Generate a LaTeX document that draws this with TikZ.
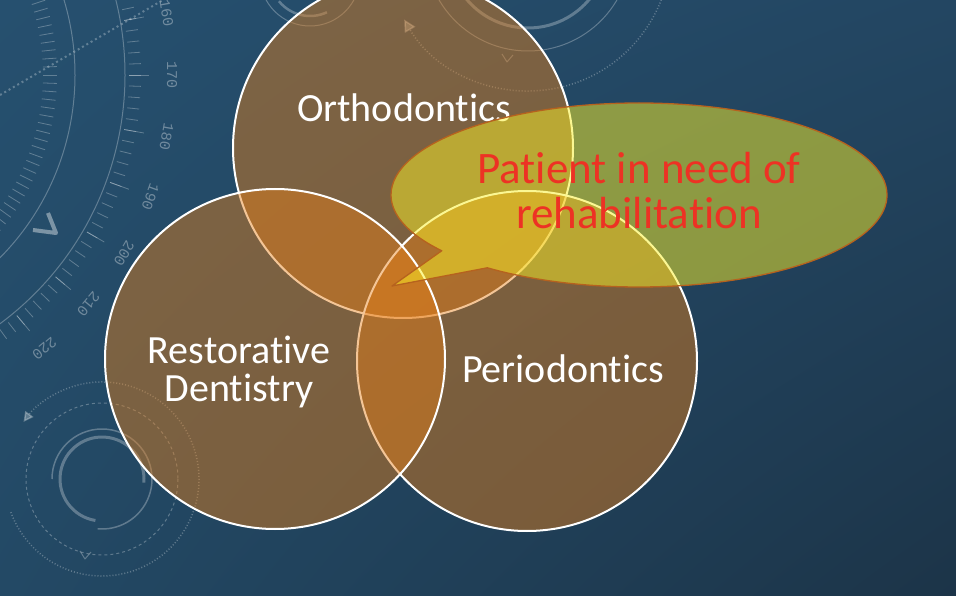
\documentclass[tikz,border=0pt]{standalone}
\usepackage{fontspec}
\setmainfont{Carlito}[Ligatures={NoCommon,NoContextual},Contextuals=NoAlternate]
\newfontfamily\dialfont{Liberation Mono}
\usetikzlibrary{shapes.callouts,shadings,arrows.meta}
\definecolor{bgtl}{RGB}{38,80,111}
\definecolor{bgtr}{RGB}{35,70,98}
\definecolor{bgbl}{RGB}{35,73,101}
\definecolor{bgbr}{RGB}{28,52,72}
\definecolor{vennfill}{RGB}{232,128,24}
\definecolor{bubblefill}{RGB}{249,240,40}
\definecolor{bubbleedge}{RGB}{182,98,30}
\definecolor{needred}{RGB}{237,50,36}

\begin{document}
\begin{tikzpicture}[
    x=1pt, y=-1pt, line join=round,
    venn/.style={circle,minimum size=340pt,inner sep=0pt,
        fill=vennfill,fill opacity=.45,draw=white,line width=2pt},
    venntext/.style={text=white,align=center,
        font=\fontsize{40}{38}\selectfont},
    bubble/.style={ellipse callout,minimum width=496pt,minimum height=184pt,
        inner sep=0pt,callout pointer arc=15,
        fill=bubblefill,fill opacity=.5,text opacity=1,
        draw=bubbleedge,line width=1.3pt,
        text=needred,align=center,font=\fontsize{45}{45}\selectfont},
    deco/.style={draw=white,opacity=.28,line width=1pt},
    dialnum/.style={text=white,text opacity=.35,inner sep=0pt,
        font=\dialfont\fontsize{15}{15}\selectfont}
]
    \useasboundingbox (0,0) rectangle (956,596);
    \shade[upper left=bgtl,upper right=bgtr,lower left=bgbl,lower right=bgbr]
        (0,0) rectangle (956,596);

    % faint dial and rings behind the diagram
    \begin{scope}
    \clip (0,0) rectangle (956,596);
    \coordinate (dial) at (-185,75);
    \draw[deco] (dial) ++(-40:260) arc[start angle=-40,end angle=80,radius=260];
    \draw[deco] (dial) ++(-40:310) arc[start angle=-40,end angle=80,radius=310];
    \foreach \a in {-30,-28,...,80} {
        \draw[deco,line width=.8pt] (dial) ++(\a:228) -- ++(\a:14);
        \draw[deco,line width=.8pt] (dial) ++(\a:314) -- ++(\a:12);
    }
    \foreach \a in {-30,-20,...,80}
        \draw[deco,line width=.8pt] (dial) ++(\a:314) -- ++(\a:20);
    \foreach \n in {160,170,...,220}
        \path (dial) ++({\n-170}:357) node[dialnum,rotate=80-\n] (deg\n) {\n};
    \draw[deco,line width=2pt,dash pattern=on 2pt off 3pt] (0,95) -- (163,0);
    \draw[deco,opacity=.4,line width=4pt] (48,213) -- (56,233) -- (33,230);

    \coordinate (ringA) at (102,479);
    \draw[deco,line width=3pt] (ringA) ++(99:42) arc[start angle=99,end angle=365,radius=42];
    \draw[deco,line width=1.5pt] (ringA) ++(180:50) arc[start angle=180,end angle=455,radius=50];
    \draw[deco,dashed] (ringA) circle[radius=76];
    \draw[deco,dotted,line width=1.5pt,-{Triangle[length=10pt,width=10pt]}]
        (ringA) ++(160:97) arc[start angle=160,end angle=-144,radius=97];
    \draw[deco] (80,551) -- (85,559) -- (91,552);

    \coordinate (ringB) at (528,-52);
    \draw[deco] (ringB) circle[radius=103];
    \draw[deco,line width=3pt] (ringB) circle[radius=80];
    \draw[deco,dotted,line width=1.5pt,-{Triangle[length=12pt,width=12pt]}]
        (ringB) ++(-10:143) arc[start angle=-10,end angle=150,radius=143];
    \draw[deco] (502,54) -- (507,62) -- (513,55);

    \coordinate (ringC) at (310,-24);
    \draw[deco] (ringC) circle[radius=50];
    \draw[deco,line width=2.5pt] (ringC) ++(65:40) arc[start angle=65,end angle=141,radius=40];
    \end{scope}

    % the three fields
    \node[venn] (ortho) at (403,148) {};
    \node[venn] (perio) at (527,361) {};
    \node[venn] (resto) at (275,359) {};
    \node[venntext,anchor=base] (orthoname) at (404,122) {Orthodontics};
    \node[venntext] (restoname) at (239,372) {Restorative\\Dentistry};
    \node[venntext,anchor=base] (perioname) at (563,382) {Periodontics};

    % callout
    \node[bubble,callout absolute pointer={(392,286)},text depth=10pt]
        (need) at (639,195) {Patient in need of\\rehabilitation};
\end{tikzpicture}
\end{document}
